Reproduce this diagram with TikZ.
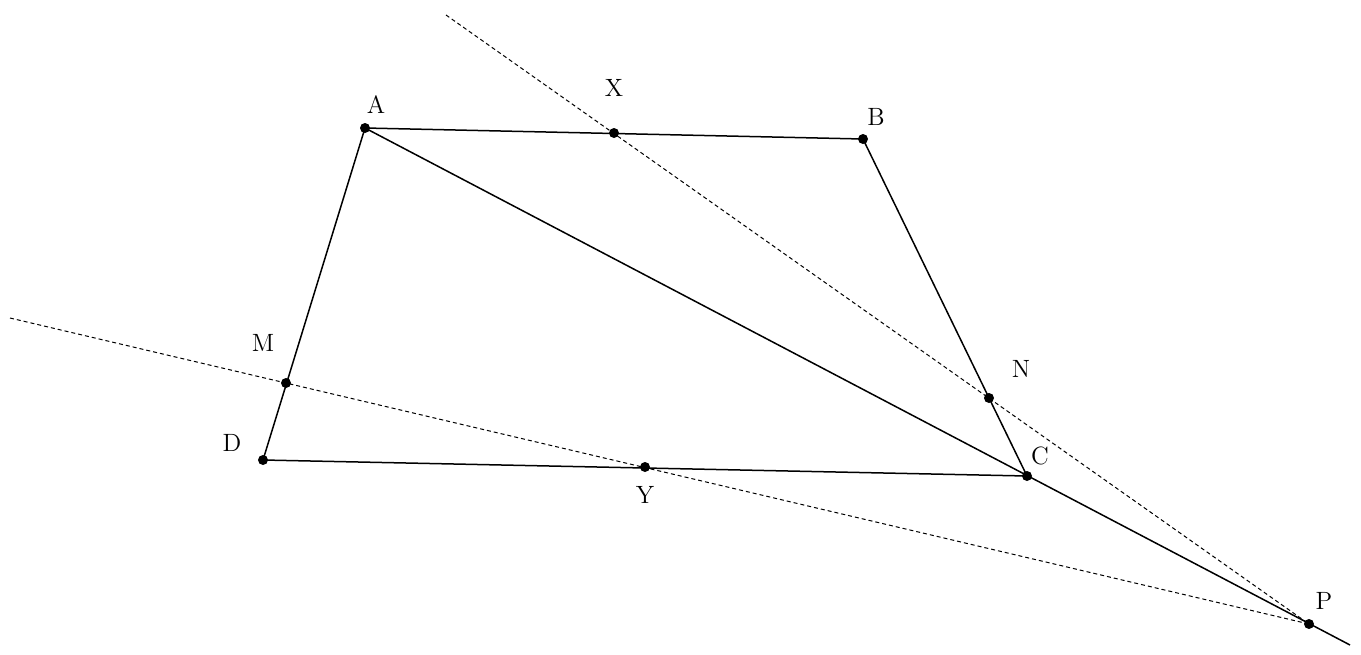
\documentclass[tikz,border=0pt]{standalone}
\begin{document}
\begin{tikzpicture}[x=0.5pt,y=-0.5pt,
  seg/.style={line width=0.75pt},
  aux/.style={line width=0.5pt, dash pattern=on 2pt off 1.5pt},
  pt/.style={fill=black},
  lab/.style={font=\fontsize{12.5}{14}\selectfont, inner sep=0pt}]
\useasboundingbox (0,0) rectangle (1361,654);
\coordinate (A) at (365,128);
\coordinate (B) at (863,139);
\coordinate (C) at (1027,476);
\coordinate (D) at (263,460);
\coordinate (X) at (614,133);
\coordinate (Y) at (645,467);
\coordinate (M) at (286,383);
\coordinate (N) at (989,398);
\coordinate (P) at (1309,624);
\coordinate (E) at (1350,645);
\coordinate (S1) at (446,15);
\coordinate (S2) at (10,318);
\draw[seg] (A) -- (B) -- (C) -- (D) -- cycle;
\draw[seg] (A) -- (E);
\draw[aux] (S1) -- (P);
\draw[aux] (S2) -- (P);
\foreach \p in {A,B,C,D,X,Y,M,N,P} \fill[pt] (\p) circle (2.5pt);
\node[lab] (lA) at (376,105) {A};
\node[lab] (lB) at (876,117) {B};
\node[lab] (lC) at (1040,456) {C};
\node[lab] (lD) at (232,443) {D};
\node[lab] (lX) at (614,88) {X};
\node[lab] (lY) at (645,495) {Y};
\node[lab] (lM) at (263,343) {M};
\node[lab] (lN) at (1021,369) {N};
\node[lab] (lP) at (1324,601) {P};
\end{tikzpicture}
\end{document}
